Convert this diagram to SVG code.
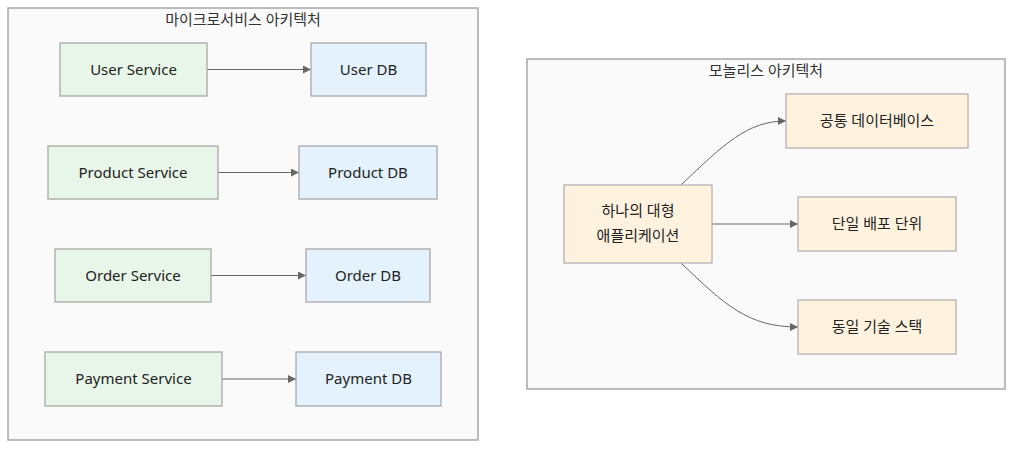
<svg xmlns="http://www.w3.org/2000/svg" width="1021" height="452" viewBox="0 0 1021 452">
<defs>
<style>
.cluster{fill:#fafafa;stroke:#9a9a9a;stroke-width:1.3}
.svc{fill:#e8f5e9;stroke:#a8a8a8;stroke-width:1.3}
.db{fill:#e3f2fd;stroke:#a8a8a8;stroke-width:1.3}
.mono{fill:#fff3e0;stroke:#b3b3b3;stroke-width:1.3}
text{font-family:"Noto Sans","Noto Sans CJK KR",sans-serif;font-size:15px;fill:#222;text-anchor:middle;dominant-baseline:central}
.ct{fill:#333}
.edge{fill:none;stroke:#666;stroke-width:1}
</style>
<marker id="arr" viewBox="0 0 10 10" refX="10" refY="5" markerWidth="8" markerHeight="8" markerUnits="userSpaceOnUse" orient="auto">
<path d="M0,0 L10,5 L0,10 z" fill="#666"/>
</marker>
</defs>
<rect width="1021" height="452" fill="#ffffff"/>
<g id="cluster-micro">
<rect class="cluster" x="8" y="8" width="470" height="432"/>
<text class="ct" x="243" y="19">마이크로서비스 아키텍처</text>
</g>
<g id="cluster-mono">
<rect class="cluster" x="527" y="59" width="478" height="330"/>
<text class="ct" x="766" y="70">모놀리스 아키텍처</text>
</g>
<g id="connectors">
<path class="edge" d="M207,69.5 L311,69.5" marker-end="url(#arr)"/>
<path class="edge" d="M218,172.5 L299,172.5" marker-end="url(#arr)"/>
<path class="edge" d="M211,275.5 L306,275.5" marker-end="url(#arr)"/>
<path class="edge" d="M222,379 L296,379" marker-end="url(#arr)"/>
<path class="edge" d="M681,185 C725,143 748,121 786,121" marker-end="url(#arr)"/>
<path class="edge" d="M712,224 L798,224" marker-end="url(#arr)"/>
<path class="edge" d="M681,263 C725,305 748,327 798,327" marker-end="url(#arr)"/>
</g>
<g id="user-service"><rect class="svc" x="60" y="43" width="147" height="53"/><text x="133.5" y="68.5">User Service</text></g>
<g id="user-db"><rect class="db" x="311" y="43" width="115" height="53"/><text x="368.5" y="68.5">User DB</text></g>
<g id="product-service"><rect class="svc" x="48" y="146" width="170" height="53"/><text x="133" y="171.5">Product Service</text></g>
<g id="product-db"><rect class="db" x="299" y="146" width="138" height="53"/><text x="368" y="171.5">Product DB</text></g>
<g id="order-service"><rect class="svc" x="55" y="249" width="156" height="53"/><text x="133" y="274.5">Order Service</text></g>
<g id="order-db"><rect class="db" x="306" y="249" width="124" height="53"/><text x="368" y="274.5">Order DB</text></g>
<g id="payment-service"><rect class="svc" x="45" y="352" width="177" height="54"/><text x="133.5" y="378">Payment Service</text></g>
<g id="payment-db"><rect class="db" x="296" y="352" width="145" height="54"/><text x="368.5" y="378">Payment DB</text></g>
<g id="monolith"><rect class="mono" x="564" y="185" width="148" height="78"/><text x="638" y="210">하나의 대형</text><text x="638" y="235">애플리케이션</text></g>
<g id="shared-db"><rect class="mono" x="786" y="94" width="182" height="54"/><text x="877" y="120">공통 데이터베이스</text></g>
<g id="single-deploy"><rect class="mono" x="798" y="197" width="158" height="54"/><text x="877" y="223">단일 배포 단위</text></g>
<g id="same-stack"><rect class="mono" x="798" y="300" width="158" height="54"/><text x="877" y="326">동일 기술 스택</text></g>
</svg>
